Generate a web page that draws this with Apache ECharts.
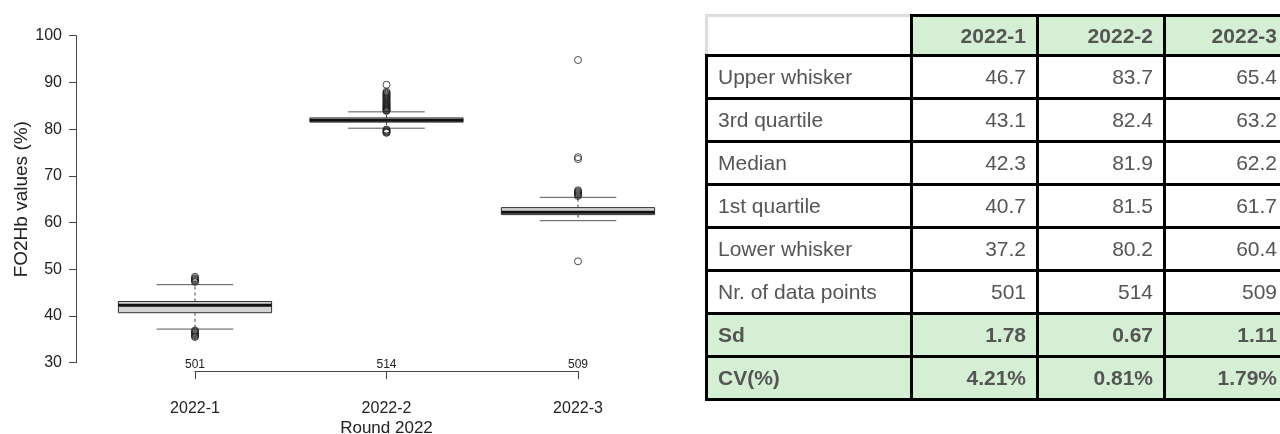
<!DOCTYPE html>
<html>
<head>
<meta charset="utf-8">
<title>FO2Hb values – Round 2022</title>
<script src="https://cdn.jsdelivr.net/npm/echarts/dist/echarts.min.js"></script>
<style>
  html, body { margin: 0; padding: 0; background: #fff; }
  body { width: 1280px; height: 434px; overflow: hidden; position: relative; }
  #chart { position: absolute; left: 0; top: 0; width: 1280px; height: 434px; }
  #stats {
    position: absolute; left: 705px; top: 14px; width: 582px;
    border-collapse: collapse; table-layout: fixed;
    font-family: "Liberation Sans", Arial, sans-serif; font-size: 21px; color: #555;
  }
  #stats td, #stats th { border: 3px solid #000; padding: 0 10px; box-sizing: border-box; white-space: nowrap; }
  #stats th { height: 40px; background: #d4efd4; font-weight: bold; text-align: right; }
  #stats td { height: 43px; text-align: right; }
  #stats td.lbl { text-align: left; }
  #stats th.corner { background: #fff; border-top-color: #ddd; border-left-color: #ddd; }
  #stats tr.hl td { background: #d4efd4; font-weight: bold; }
</style>
</head>
<body>
<div id="chart"></div>
<table id="stats"></table>
<script>
// Rounds and their summary statistics
const rounds = ['2022-1', '2022-2', '2022-3'];
const counts = [501, 514, 509];
const lowerWhisker = [37.2, 80.2, 60.4];
const firstQuartile = [40.7, 81.5, 61.7];
const medians = [42.3, 81.9, 62.2];
const thirdQuartile = [43.1, 82.4, 63.2];
const upperWhisker = [46.7, 83.7, 65.4];
const stdDev = [1.78, 0.67, 1.11];
const cvPercent = [4.21, 0.81, 1.79];

// Values outside the whiskers, per round
const outliers2022_1 = [47.3, 47.5, 47.7, 47.9, 48.1, 48.4, 36.9, 36.7, 36.5, 36.3, 36.1, 35.9, 35.7, 35.5];
const outliers2022_2 = [83.9, 84.0, 84.1, 84.3, 84.4, 84.5, 84.7, 84.8, 85.0, 85.1, 85.3, 85.5, 85.6, 85.8,
  86.0, 86.2, 86.4, 86.6, 86.8, 87.0, 87.2, 87.4, 87.6, 87.8, 88.0, 89.5,
  79.9, 79.8, 79.6, 79.5, 79.3, 79.2];
const outliers2022_3 = [94.8, 74.0, 73.6, 65.7, 65.9, 66.1, 66.3, 66.5, 66.7, 66.9, 51.7];

// Value axis ticks
const yMin = 30, yMax = 100, yStep = 10;

// ---- statistics table ----
(function buildTable() {
  const table = document.getElementById('stats');
  const colW = [205, 126, 127, 124];
  const cg = document.createElement('colgroup');
  colW.forEach(w => { const c = document.createElement('col'); c.style.width = w + 'px'; cg.appendChild(c); });
  table.appendChild(cg);
  const head = document.createElement('tr');
  const corner = document.createElement('th'); corner.className = 'corner'; head.appendChild(corner);
  rounds.forEach(r => { const th = document.createElement('th'); th.textContent = r; head.appendChild(th); });
  table.appendChild(head);
  const rows = [
    ['Upper whisker', upperWhisker.map(v => v.toFixed(1)), false],
    ['3rd quartile', thirdQuartile.map(v => v.toFixed(1)), false],
    ['Median', medians.map(v => v.toFixed(1)), false],
    ['1st quartile', firstQuartile.map(v => v.toFixed(1)), false],
    ['Lower whisker', lowerWhisker.map(v => v.toFixed(1)), false],
    ['Nr. of data points', counts.map(String), false],
    ['Sd', stdDev.map(v => v.toFixed(2)), true],
    ['CV(%)', cvPercent.map(v => v.toFixed(2) + '%'), true]
  ];
  rows.forEach(([label, vals, hl]) => {
    const tr = document.createElement('tr');
    if (hl) tr.className = 'hl';
    const l = document.createElement('td'); l.className = 'lbl'; l.textContent = label; tr.appendChild(l);
    vals.forEach(v => { const td = document.createElement('td'); td.textContent = v; tr.appendChild(td); });
    table.appendChild(tr);
  });
})();

// ---- box plot ----
const boxData = rounds.map((r, i) => [i, lowerWhisker[i], firstQuartile[i], medians[i], thirdQuartile[i], upperWhisker[i]]);
const outlierData = [];
[outliers2022_1, outliers2022_2, outliers2022_3].forEach((arr, i) => arr.forEach(v => outlierData.push([i, v])));

function renderBox(params, api) {
  const x = api.value(0);
  const band = api.size([1, 0])[0];
  const half = band * 0.4, capHalf = band * 0.2;
  const pLow = api.coord([x, api.value(1)]);
  const pQ1 = api.coord([x, api.value(2)]);
  const pMed = api.coord([x, api.value(3)]);
  const pQ3 = api.coord([x, api.value(4)]);
  const pHigh = api.coord([x, api.value(5)]);
  const cx = pMed[0];
  const dash = { stroke: '#444', lineWidth: 1, lineDash: [3, 3] };
  const cap = { stroke: '#555', lineWidth: 1 };
  return {
    type: 'group',
    children: [
      { type: 'line', shape: { x1: cx, y1: pQ3[1], x2: cx, y2: pHigh[1] }, style: dash },
      { type: 'line', shape: { x1: cx, y1: pQ1[1], x2: cx, y2: pLow[1] }, style: dash },
      { type: 'line', shape: { x1: cx - capHalf, y1: pHigh[1], x2: cx + capHalf, y2: pHigh[1] }, style: cap },
      { type: 'line', shape: { x1: cx - capHalf, y1: pLow[1], x2: cx + capHalf, y2: pLow[1] }, style: cap },
      { type: 'rect', shape: { x: cx - half, y: pQ3[1], width: half * 2, height: pQ1[1] - pQ3[1] },
        style: { fill: '#d3d3d3', stroke: '#333', lineWidth: 1 } },
      { type: 'line', shape: { x1: cx - half, y1: pMed[1], x2: cx + half, y2: pMed[1] },
        style: { stroke: '#111', lineWidth: 3 } }
    ]
  };
}

const textColor = '#222';
const font = '"Liberation Sans", Arial, sans-serif';

const chart = echarts.init(document.getElementById('chart'), null, { renderer: 'canvas' });
chart.setOption({
  animation: false,
  backgroundColor: '#fff',
  textStyle: { fontFamily: font },
  grid: [
    { left: 99.25, width: 574.5, top: 35.7, height: 327 },
    { left: 195, width: 383, top: 370, height: 5 }
  ],
  xAxis: [
    {
      gridIndex: 0, type: 'category', data: rounds,
      axisLine: { show: false }, axisTick: { show: false }, splitLine: { show: false },
      axisLabel: { interval: 0, margin: -4, fontSize: 12, color: textColor, formatter: (v, i) => String(counts[i]) }
    },
    {
      gridIndex: 1, type: 'value', min: 1, max: 3, interval: 1,
      axisLine: { show: true, lineStyle: { color: '#444', width: 1 } },
      axisTick: { show: true, length: 8, lineStyle: { color: '#444' } },
      splitLine: { show: false },
      axisLabel: { margin: 29, fontSize: 16, color: textColor, formatter: v => rounds[Math.round(v) - 1] || '' },
      name: 'Round 2022', nameLocation: 'middle', nameGap: 49,
      nameTextStyle: { fontSize: 17, color: textColor }
    }
  ],
  yAxis: [
    {
      gridIndex: 0, type: 'value', min: yMin, max: yMax, interval: yStep, offset: 23.25,
      axisLine: { show: true, lineStyle: { color: '#444', width: 1 } },
      axisTick: { show: true, length: 7, lineStyle: { color: '#444' } },
      splitLine: { show: false },
      axisLabel: { margin: 14, fontSize: 16, color: textColor },
      name: 'FO2Hb values (%)', nameLocation: 'middle', nameGap: 44,
      nameTextStyle: { fontSize: 19, color: textColor }
    },
    { gridIndex: 1, type: 'value', show: false, min: 0, max: 1 }
  ],
  series: [
    {
      type: 'custom', xAxisIndex: 0, yAxisIndex: 0,
      data: boxData, encode: { x: 0, y: [1, 2, 3, 4, 5] },
      renderItem: renderBox, z: 2
    },
    {
      type: 'scatter', xAxisIndex: 0, yAxisIndex: 0, data: outlierData,
      symbol: 'circle', symbolSize: 7,
      itemStyle: { color: 'rgba(0,0,0,0)', borderColor: '#222', borderWidth: 1 }, z: 3
    }
  ]
});
</script>
</body>
</html>
